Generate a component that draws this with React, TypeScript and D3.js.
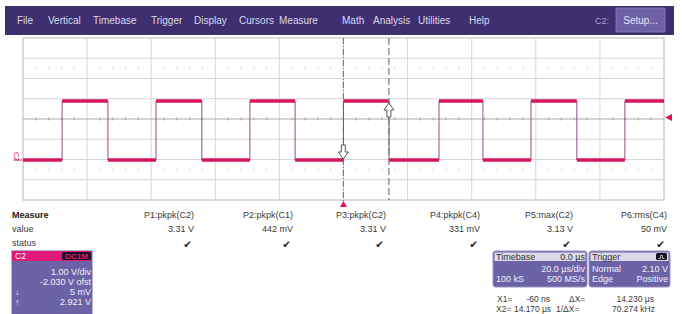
import * as d3 from 'd3';

const FONT = '"Liberation Sans", Arial, Helvetica, sans-serif';

// menu
const menuItems = ['File', 'Vertical', 'Timebase', 'Trigger', 'Display', 'Cursors', 'Measure', 'Math', 'Analysis', 'Utilities', 'Help'];
const menuX = [17, 48, 93, 151, 194, 239, 279, 342, 373, 418, 469];

// waveform C2: edge times (µs) and levels (V) between edges
const edgeTimes = [-87.8, -73.5, -58.5, -44.2, -29.2, -15.1, 0.0, 14.2, 29.8, 43.5, 58.5, 72.8, 87.8];
const lowLevel = 0.005;
const highLevel = 2.921;
const voltsPerDiv = 1.0;
const offsetV = -2.03;
const timePerDiv = 20;
const cursorX1 = -0.06;
const cursorX2 = 14.17;
const triggerLevel = 2.1;

// measurements
const measureNames = ['P1:pkpk(C2)', 'P2:pkpk(C1)', 'P3:pkpk(C2)', 'P4:pkpk(C4)', 'P5:max(C2)', 'P6:rms(C4)'];
const measureValues = ['3.31 V', '442 mV', '3.31 V', '331 mV', '3.13 V', '50 mV'];
const measureRight = [194, 293, 386, 480, 573, 667];

const C2_LINES = ['1.00 V/div', '-2.030 V ofst', '5 mV', '2.921 V'];

export default function App() {
  const left = 23, right = 664, top = 38, bottom = 200;
  const centerV = -offsetV;
  const x = d3.scaleLinear().domain([-5 * timePerDiv, 5 * timePerDiv]).range([left, right]);
  const y = d3.scaleLinear().domain([centerV - 4 * voltsPerDiv, centerV + 4 * voltsPerDiv]).range([bottom, top]);

  const xDivs = d3.range(-5, 6).map(d => x(d * timePerDiv));
  const yDivs = d3.range(-4, 5).map(d => y(centerV + d * voltsPerDiv));
  const minorX = d3.range(-24, 25).filter(i => i % 5 !== 0).map(i => x(i * timePerDiv / 5));
  const dotRows = [y(centerV + 2.5), y(centerV - 2.5)];

  // segments
  const bounds = [-100, ...edgeTimes, 100];
  const segs = d3.range(bounds.length - 1).map(i => ({
    t0: bounds[i], t1: bounds[i + 1], v: i % 2 === 0 ? lowLevel : highLevel,
  }));
  const line = d3.line<[number, number]>().x(d => x(d[0])).y(d => y(d[1]));

  const pink = '#d6145f';
  const panel = '#6c62a6';
  const txt = '#3a3a3a';

  const x1 = x(cursorX1), x2 = x(cursorX2);
  const yLow = y(lowLevel), yHigh = y(highLevel);

  return (
    <div style={{ position: 'fixed', left: 0, top: 0 }}>
      <svg width={682} height={314} style={{ display: 'block', background: '#fff', fontFamily: FONT }}>
        {/* menu bar */}
        <rect x={5} y={6} width={669} height={29} fill="#3e2f70" />
        {menuItems.map((m, i) => (
          <text key={m} x={menuX[i]} y={24} fontSize={10} fill="#dcd8ec">{m}</text>
        ))}
        <text x={595} y={24} fontSize={9} fill="#a8a2c8">C2:</text>
        <rect x={616} y={8} width={49} height={24} fill="#6e61a8" stroke="#8a80bc" strokeWidth={0.8} rx={1} />
        <text x={640.5} y={24} fontSize={10} fill="#e6e3f2" textAnchor="middle">Setup...</text>

        {/* grid */}
        <rect x={left} y={top} width={right - left} height={bottom - top} fill="#fff" stroke="#c4c4c4" strokeWidth={1.2} />
        {xDivs.slice(1, -1).map((gx, i) => (
          <line key={'gx' + i} x1={gx} x2={gx} y1={top} y2={bottom} stroke="#d6d6d6" strokeWidth={1} />
        ))}
        {yDivs.slice(1, -1).map((gy, i) => (
          <line key={'gy' + i} x1={left} x2={right} y1={gy} y2={gy} stroke={i === 3 ? '#a8a8a8' : '#d6d6d6'} strokeWidth={1} />
        ))}
        {minorX.map((mx, i) => (
          <line key={'mt' + i} x1={mx} x2={mx} y1={y(centerV) - 1.5} y2={y(centerV) + 1.5} stroke="#999" strokeWidth={0.8} />
        ))}
        {dotRows.map((ry, j) => minorX.map((mx, i) => (
          <rect key={'d' + j + '-' + i} x={mx - 0.5} y={ry - 0.5} width={1} height={1} fill="#b0b0b0" />
        )))}

        {/* waveform */}
        {edgeTimes.map((t, i) => (
          <line key={'e' + i} x1={x(t)} x2={x(t)} y1={yLow} y2={yHigh} stroke="#8e4f86" strokeWidth={1} />
        ))}
        {segs.map((s, i) => (
          <path key={'s' + i} d={line([[s.t0, s.v], [s.t1, s.v]]) || ''} stroke={pink} strokeWidth={3.6} fill="none" />
        ))}

        {/* cursors */}
        <line x1={x1} x2={x1} y1={top} y2={bottom + 4} stroke="#666" strokeWidth={1} strokeDasharray="6 2 1 2" />
        <line x1={x2} x2={x2} y1={top} y2={bottom} stroke="#777" strokeWidth={1.2} strokeDasharray="7 3" />
        <path d={`M${x1 - 2},145 h4 v7 h3 l-5,7 l-5,-7 h3 z`} fill="#fff" stroke="#555" strokeWidth={1} />
        <path d={`M${x2},103 l5,7 h-3 v7 h-4 v-7 h-3 z`} fill="#fff" stroke="#555" strokeWidth={1} />

        {/* trigger markers */}
        <path d={`M${x(0)},201 l3.5,6 h-7 z`} fill={pink} />
        <path d={`M${right + 1},${y(triggerLevel)} l7,-3.5 v7 z`} fill={pink} />
        <text x={0} y={0} fontSize={7} fill={pink} transform={`translate(14,${yLow - 8}) rotate(90)`}>C2</text>
        <line x1={14} x2={22} y1={yLow} y2={yLow} stroke={pink} strokeWidth={1} />

        {/* measure table */}
        <text x={12} y={218} fontSize={9} fontWeight="bold" fill="#222">Measure</text>
        <text x={12} y={232} fontSize={9} fill={txt}>value</text>
        <text x={12} y={246} fontSize={9} fill={txt}>status</text>
        {measureNames.map((n, i) => (
          <g key={n + i}>
            <text x={measureRight[i]} y={218} fontSize={9} fill={txt} textAnchor="end">{n}</text>
            <text x={measureRight[i]} y={232} fontSize={9} fill={txt} textAnchor="end">{measureValues[i]}</text>
            <text x={measureRight[i] - 2} y={247.5} fontSize={10.5} fill="#222" textAnchor="end" fontFamily="DejaVu Sans">✔</text>
          </g>
        ))}

        {/* C2 descriptor box */}
        <rect x={11.5} y={250.5} width={81} height={64} fill={panel} stroke="#b8b4d0" />
        <rect x={12} y={251} width={80} height={10} fill="#e0197a" />
        <text x={15} y={259} fontSize={8.5} fill="#fff">C2</text>
        <rect x={62} y={252} width={29} height={8} rx={1.5} fill="#1a1020" />
        <text x={76.5} y={259} fontSize={8} fontWeight="bold" fill="#e0197a" textAnchor="middle">DC1M</text>
        {C2_LINES.map((l, i) => (
          <text key={l} x={91} y={275 + i * 10} fontSize={9} fill="#f2f0fa" textAnchor="end">{l}</text>
        ))}
        <text x={15} y={295} fontSize={8} fill="#f2f0fa">↓</text>
        <text x={15} y={305} fontSize={8} fill="#f2f0fa">↑</text>

        {/* timebase box */}
        <rect x={493} y={251} width={94} height={36} rx={2.5} fill={panel} stroke="#9a93c4" />
        <rect x={494.5} y={252.5} width={91} height={8.5} fill="#dcdae8" />
        <text x={496} y={259.5} fontSize={9} fill="#333">Timebase</text>
        <text x={585} y={259.5} fontSize={9} fill="#333" textAnchor="end">0.0 µs</text>
        <text x={585} y={272} fontSize={9} fill="#f2f0fa" textAnchor="end">20.0 µs/div</text>
        <text x={496} y={282} fontSize={9} fill="#f2f0fa">100 kS</text>
        <text x={585} y={282} fontSize={9} fill="#f2f0fa" textAnchor="end">500 MS/s</text>

        {/* trigger box */}
        <rect x={589} y={251} width={81} height={36} rx={2.5} fill={panel} stroke="#9a93c4" />
        <rect x={590.5} y={252.5} width={78} height={8.5} fill="#dcdae8" />
        <text x={592} y={259.5} fontSize={9} fill="#333">Trigger</text>
        <rect x={656} y={253} width={11} height={7} rx={1.5} fill="#1a1020" />
        <path d="M658.5,258.5 h2 v-3 h2 v3 h2" stroke="#dcdae8" strokeWidth={0.8} fill="none" />
        <text x={592} y={272} fontSize={9} fill="#f2f0fa">Normal</text>
        <text x={668} y={272} fontSize={9} fill="#f2f0fa" textAnchor="end">2.10 V</text>
        <text x={592} y={282} fontSize={9} fill="#f2f0fa">Edge</text>
        <text x={668} y={282} fontSize={9} fill="#f2f0fa" textAnchor="end">Positive</text>

        {/* cursor readout */}
        <text x={497} y={302} fontSize={8.5} fill={txt}>X1=</text>
        <text x={550} y={302} fontSize={8.5} fill={txt} textAnchor="end">-60 ns</text>
        <text x={569} y={302} fontSize={8.5} fill={txt}>ΔX=</text>
        <text x={654} y={302} fontSize={8.5} fill={txt} textAnchor="end">14.230 µs</text>
        <text x={496} y={312} fontSize={8.5} fill={txt}>X2=</text>
        <text x={551} y={312} fontSize={8.5} fill={txt} textAnchor="end" textLength={37}>14.170 µs</text>
        <text x={556} y={312} fontSize={8.5} fill={txt}>1/ΔX=</text>
        <text x={655} y={312} fontSize={8.5} fill={txt} textAnchor="end">70.274 kHz</text>
      </svg>
    </div>
  );
}
